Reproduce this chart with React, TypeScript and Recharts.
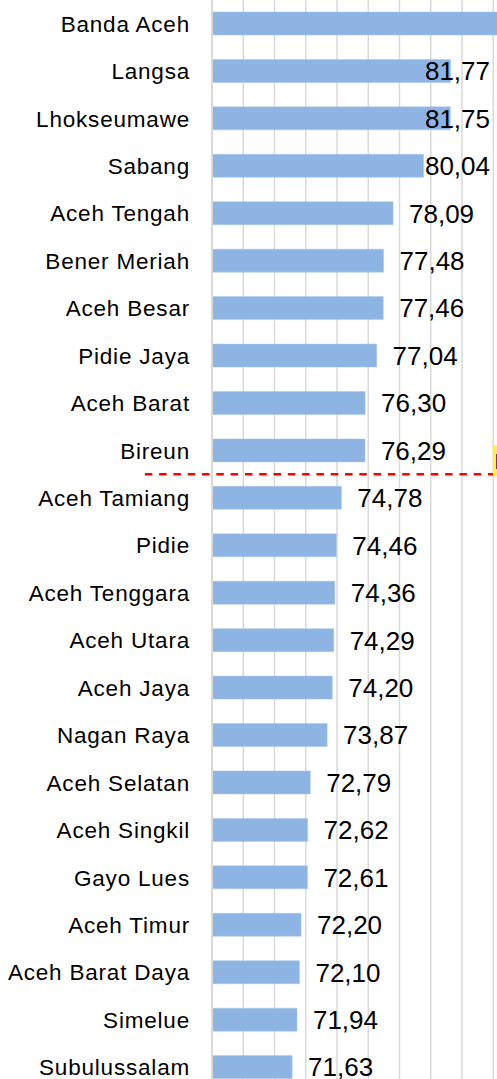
import React from 'react'
import { Bar, BarChart, CartesianGrid, LabelList, ReferenceLine, XAxis, YAxis } from 'recharts'

// IPM per kabupaten/kota
const regions = [
    'Banda Aceh', 'Langsa', 'Lhokseumawe', 'Sabang', 'Aceh Tengah', 'Bener Meriah',
    'Aceh Besar', 'Pidie Jaya', 'Aceh Barat', 'Bireun', 'Aceh Tamiang', 'Pidie',
    'Aceh Tenggara', 'Aceh Utara', 'Aceh Jaya', 'Nagan Raya', 'Aceh Selatan',
    'Aceh Singkil', 'Gayo Lues', 'Aceh Timur', 'Aceh Barat Daya', 'Simelue', 'Subulussalam',
]
const ipm = [
    85.71, 81.77, 81.75, 80.04, 78.09, 77.48, 77.46, 77.04, 76.3, 76.29, 74.78, 74.46,
    74.36, 74.29, 74.2, 73.87, 72.79, 72.62, 72.61, 72.2, 72.1, 71.94, 71.63,
]
const xTicks = [66.5, 68.5, 70.5, 72.5, 74.5, 76.5, 78.5, 80.5, 82.5, 84.5, 86.5, 88.5, 90.5]
const axisMaxShown = 84.5
const provinceLine = { from: 62.2, to: 84.5, below: 'Aceh Tamiang', text: 'IPM Aceh 74,70' }

const data = regions.map((name, i) => ({ name, value: ipm[i] }))

const fmt = (v: number) => v.toFixed(2).replace('.', ',')

const ValueLabel = (props: any) => {
    const { x, y, width, height, value } = props
    if (value > axisMaxShown) return null
    const end = Number(x) + Number(width)
    return (
        <text
            x={Math.min(end + 81, 490)}
            y={Number(y) + Number(height) / 2}
            dy="0.36em"
            textAnchor="end"
            fontSize={26}
            fill="#000"
            fontFamily="'Liberation Sans', Arial, sans-serif"
        >
            {fmt(value)}
        </text>
    )
}

const BoxLabel = (props: any) => {
    const vb = props.viewBox ?? props
    const left = vb.x + vb.width
    const top = vb.y
    return (
        <g>
            <rect x={left} y={top - 29} width={190} height={31} fill="#ffff00" />
            <text x={left + 1.5} y={top - 5} fontSize={22} fontWeight="bold" fill="#000"
                fontFamily="'Liberation Sans', Arial, sans-serif">
                {provinceLine.text}
            </text>
        </g>
    )
}

const App = () => {
    return (
        <div style={{ position: 'fixed', left: 0, top: 0, width: 497, height: 1079, overflow: 'hidden', background: '#fff' }}>
            <BarChart
                width={587}
                height={1091}
                data={data}
                layout="vertical"
                margin={{ top: 0, right: 0, bottom: 0, left: 0 }}
                barSize={23}
            >
                <CartesianGrid horizontal={false} stroke="#d9d9d9" strokeWidth={1.5} />
                <XAxis type="number" domain={[66.5, 90.5]} ticks={xTicks} interval={0} hide />
                <YAxis
                    type="category"
                    dataKey="name"
                    width={212}
                    tickLine={false}
                    tickSize={0}
                    tickMargin={22}
                    axisLine={{ stroke: '#d9d9d9', strokeWidth: 2 }}
                    tick={{
                        fontSize: 22.5,
                        fill: '#000',
                        fontFamily: "'Liberation Sans', Arial, sans-serif",
                        style: { letterSpacing: '0.8px' },
                    }}
                    interval={0}
                />
                <Bar dataKey="value" fill="#8db4e2" stroke="#a9c6ea" strokeWidth={0.5} isAnimationActive={false}>
                    <LabelList dataKey="value" content={ValueLabel} />
                </Bar>
                <ReferenceLine
                    segment={[{ x: provinceLine.from, y: provinceLine.below }, { x: provinceLine.to, y: provinceLine.below }]}
                    position="start"
                    ifOverflow="visible"
                    stroke="#ff0000"
                    strokeWidth={2.5}
                    strokeDasharray="7.5 6.8"
                    label={BoxLabel}
                />
            </BarChart>
        </div>
    )
}

export default App
